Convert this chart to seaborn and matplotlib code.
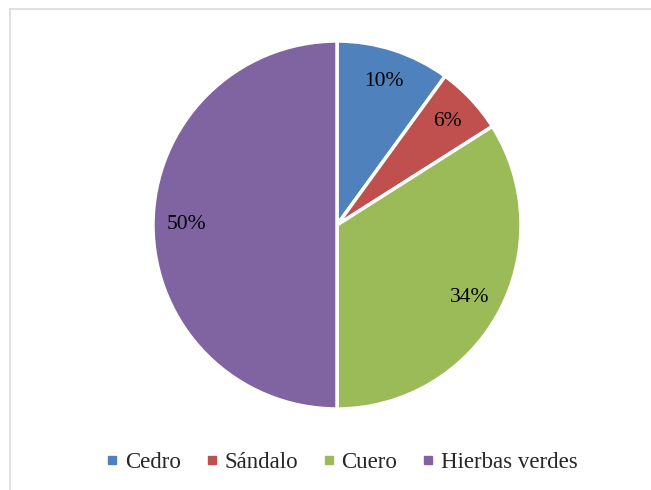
import matplotlib
matplotlib.use("Agg")
import matplotlib.pyplot as plt
import seaborn as sns
from matplotlib.lines import Line2D
from matplotlib.patches import Rectangle

# data
labels = ["Cedro", "Sándalo", "Cuero", "Hierbas verdes"]
values = [10, 6, 34, 50]
colors = ["#4F81BD", "#C0504D", "#9BBB59", "#8064A2"]

sns.set_theme(style="white")
plt.rcParams['font.family'] = ['Liberation Serif', 'DejaVu Serif']

W, H = 651, 490
fig = plt.figure(figsize=(W / 100, H / 100), dpi=100)
fig.patch.set_facecolor("white")

# light grey chart border (cropped at right/bottom)
fig.patches.append(Rectangle((10 / W, -0.1), 1.2, 1 - 9 / H + 0.1, transform=fig.transFigure,
                             fill=False, edgecolor="#D9D9D9", linewidth=1.2))

ax = fig.add_axes([0, 0, 1, 1])
wedges, texts, autotexts = ax.pie(
    values, colors=colors, startangle=90, counterclock=False,
    center=(337, H - 225), radius=184,
    autopct=lambda p: f"{p:.0f}%", pctdistance=0.82,
    wedgeprops=dict(edgecolor="white", linewidth=2.5),
    textprops=dict(fontsize=15.5, color="black"),
)
ax.set_xlim(0, W)
ax.set_ylim(0, H)
ax.set_aspect("equal")
ax.axis("off")

handles = [Line2D([0], [0], marker="s", linestyle="none", markersize=6,
                  markerfacecolor=c, markeredgecolor=c) for c in colors]
fig.legend(handles, labels, loc="center", bbox_to_anchor=(342 / W, 1 - 462 / H),
           ncol=4, frameon=False, fontsize=16.5, handlelength=0.5,
           handletextpad=0.3, columnspacing=1.1)

fig.savefig("out.png", dpi=100)
